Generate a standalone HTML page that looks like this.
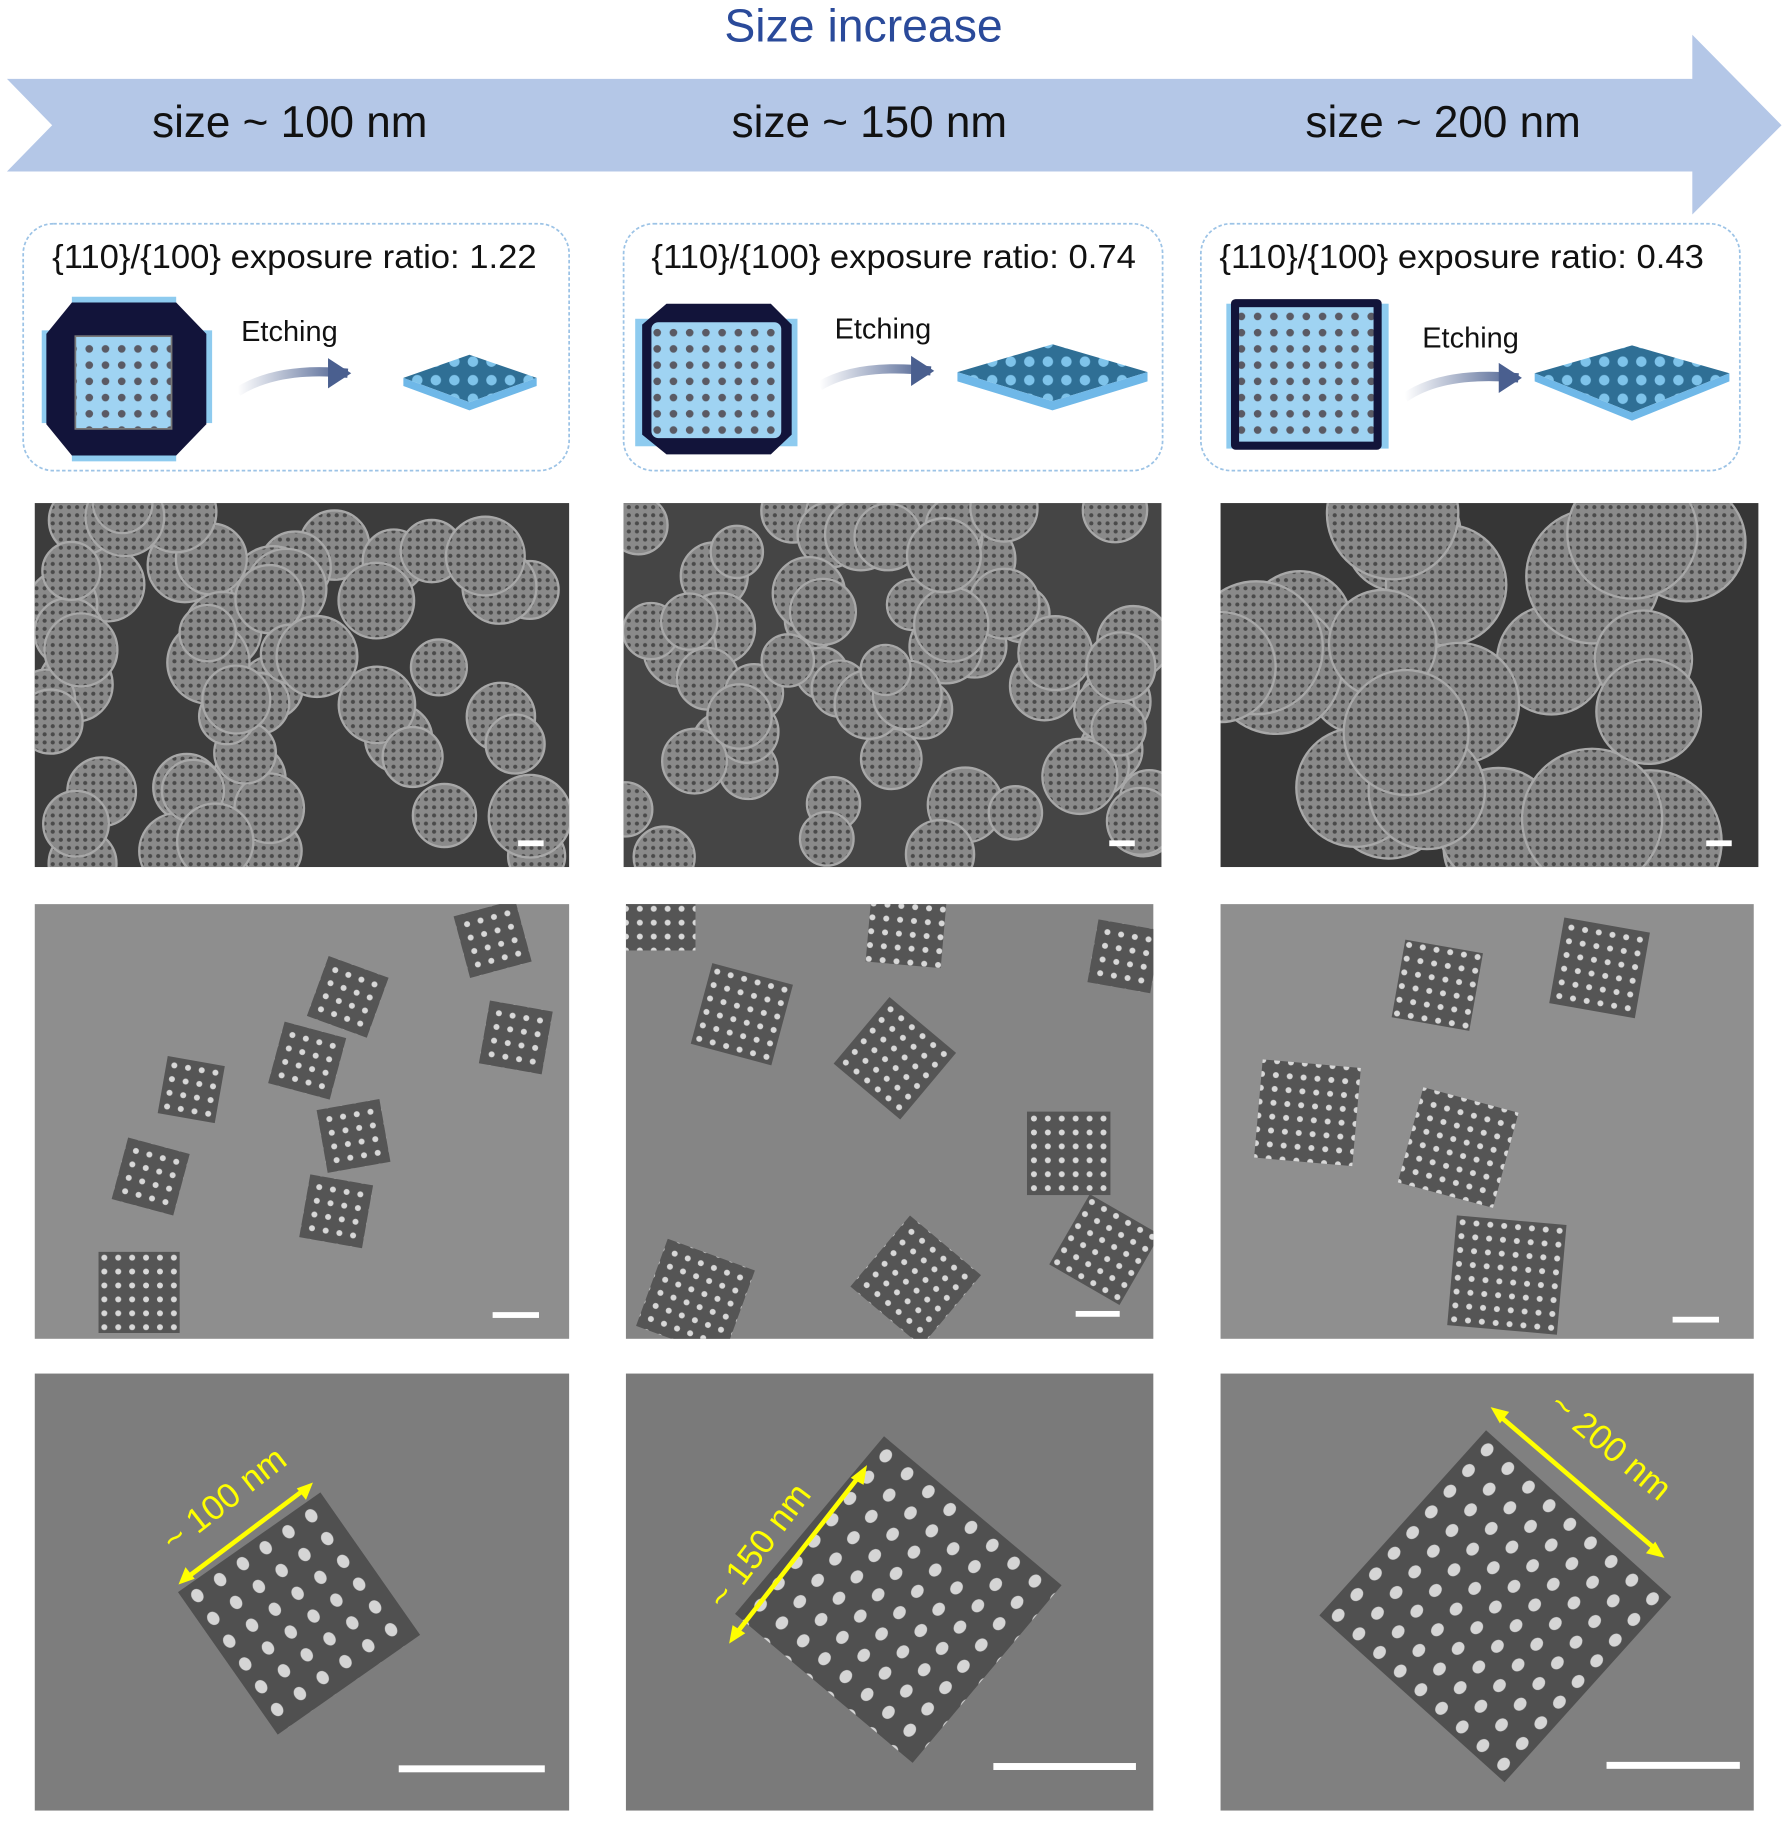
<!DOCTYPE html>
<html><head><meta charset="utf-8"><style>
html,body{margin:0;padding:0;background:#fff;}
svg{display:block;}
text{font-family:"Liberation Sans",sans-serif;}
</style></head><body>
<svg id="s" width="1792" height="1821" viewBox="0 0 1546 1571" xmlns="http://www.w3.org/2000/svg">
<defs>
<pattern id="pores" width="7" height="7" patternUnits="userSpaceOnUse"><rect width="7" height="7" fill="#8a8a8a"/><circle cx="3.5" cy="3.5" r="1.8" fill="#4a4a4a"/></pattern>
<pattern id="holes" width="12" height="12" patternUnits="userSpaceOnUse"><rect width="12" height="12" fill="#555"/><circle cx="6" cy="6" r="2.6" fill="#d8d8d8"/></pattern>
<pattern id="holes2" width="24" height="24" patternUnits="userSpaceOnUse"><rect width="24" height="24" fill="#505050"/><ellipse cx="12" cy="12" rx="5" ry="6" fill="#d5d5d5"/></pattern>
<pattern id="bluedots" width="14" height="14" patternUnits="userSpaceOnUse"><rect width="14" height="14" fill="#9fd3f2"/><circle cx="7" cy="7" r="3.3" fill="#5a5a64"/></pattern>
<pattern id="plate" width="16" height="16" patternUnits="userSpaceOnUse"><rect width="16" height="16" fill="#2f6f95"/><circle cx="8" cy="8" r="4.5" fill="#7ec3ea"/></pattern>
<linearGradient id="ag" x1="0" x2="1"><stop offset="0" stop-color="#4a5f8f" stop-opacity="0"/><stop offset="1" stop-color="#4a5f8f"/></linearGradient>
<clipPath id="c1"><rect x="30" y="434" width="461" height="314"/></clipPath>
<clipPath id="c2"><rect x="538" y="434" width="464" height="314"/></clipPath>
<clipPath id="c3"><rect x="1053" y="434" width="464" height="314"/></clipPath>
<clipPath id="t1"><rect x="30" y="780" width="461" height="375"/></clipPath>
<clipPath id="t2"><rect x="540" y="780" width="455" height="375"/></clipPath>
<clipPath id="t3"><rect x="1053" y="780" width="460" height="375"/></clipPath>
</defs>
<rect width="1546" height="1571" fill="#fff"/>
<text x="745" y="36" font-size="40" fill="#2a4a9a" text-anchor="middle">Size increase</text>
<polygon points="6,68 1460,68 1460,30 1537,108 1460,185 1460,148 6,148 45,108" fill="#b4c7e7"/>
<g font-size="38" fill="#111" text-anchor="middle">
<text x="250" y="118">size  ~ 100 nm</text>
<text x="750" y="118">size  ~ 150 nm</text>
<text x="1245" y="118">size  ~ 200 nm</text>
</g>
<g fill="none" stroke="#9cc3e6" stroke-width="1.5" stroke-dasharray="3,2">
<rect x="20" y="193" width="471" height="213" rx="26"/>
<rect x="538" y="193" width="465" height="213" rx="26"/>
<rect x="1036" y="193" width="465" height="213" rx="26"/>
</g>
<g font-size="29" fill="#111">
<text x="45" y="231" textLength="418" lengthAdjust="spacingAndGlyphs">{110}/{100} exposure ratio: 1.22</text>
<text x="562" y="231" textLength="418" lengthAdjust="spacingAndGlyphs">{110}/{100} exposure ratio: 0.74</text>
<text x="1052" y="231" textLength="418" lengthAdjust="spacingAndGlyphs">{110}/{100} exposure ratio: 0.43</text>
</g>
<g font-size="25" fill="#111">
<text x="208" y="294">Etching</text><text x="720" y="292">Etching</text><text x="1227" y="300">Etching</text>
</g>
<rect x="36" y="285" width="147" height="80" fill="#8ecbef"/>
<rect x="62" y="256" width="90" height="142" fill="#8ecbef"/>
<polygon points="62,261 152,261 178,288 178,366 152,393 62,393 40,366 40,288" fill="#12143a"/>
<rect x="65" y="290" width="83" height="80" fill="url(#bluedots)" stroke="#777" stroke-width="1.5"/>
<path d="M205,338 Q240,316 300,322" stroke="url(#ag)" stroke-width="8" fill="none"/>
<polygon points="283,309 303,322 283,335" fill="#4a5f8f"/>
<polygon points="405,306 463,326 405,347 348,326" fill="url(#plate)"/>
<polygon points="348,326 405,347 463,326 463,333 405,354 348,333" fill="#6fb8e8"/>
<rect x="548" y="275" width="140" height="110" fill="#8ecbef"/>
<polygon points="575,262 665,262 683,280 683,375 665,392 575,392 554,375 554,280" fill="#12143a"/>
<rect x="562" y="278" width="112" height="100" rx="6" fill="url(#bluedots)"/>
<path d="M707,333 Q740,313 803,320" stroke="url(#ag)" stroke-width="8" fill="none"/>
<polygon points="786,307 806,320 786,333" fill="#4a5f8f"/>
<polygon points="908,297 990,321 908,346 826,321" fill="url(#plate)"/>
<polygon points="826,321 908,346 990,321 990,329 908,354 826,329" fill="#6fb8e8"/>
<rect x="1058" y="262" width="140" height="125" fill="#8ecbef"/>
<rect x="1062" y="258" width="130" height="130" rx="4" fill="#12143a"/>
<rect x="1069" y="265" width="116" height="116" fill="url(#bluedots)"/>
<path d="M1212,343 Q1245,320 1310,326" stroke="url(#ag)" stroke-width="8" fill="none"/>
<polygon points="1293,313 1313,326 1293,339" fill="#4a5f8f"/>
<polygon points="1408,298 1492,322 1408,356 1324,322" fill="url(#plate)"/>
<polygon points="1324,322 1408,356 1492,322 1492,329 1408,363 1324,329" fill="#6fb8e8"/>
<rect x="30" y="434" width="461" height="314" fill="#3c3c3c"/>
<rect x="538" y="434" width="464" height="314" fill="#454545"/>
<rect x="1053" y="434" width="464" height="314" fill="#363636"/>
<g id="sem1" clip-path="url(#c1)"></g><g id="sem2" clip-path="url(#c2)"></g><g id="sem3" clip-path="url(#c3)"></g>
<rect x="30" y="780" width="461" height="375" fill="#8e8e8e"/>
<rect x="540" y="780" width="455" height="375" fill="#858585"/>
<rect x="1053" y="780" width="460" height="375" fill="#8f8f8f"/>
<g id="tem1" clip-path="url(#t1)"></g><g id="tem2" clip-path="url(#t2)"></g><g id="tem3" clip-path="url(#t3)"></g>
<rect x="30" y="1185" width="461" height="377" fill="#7d7d7d"/>
<rect x="540" y="1185" width="455" height="377" fill="#7a7a7a"/>
<rect x="1053" y="1185" width="460" height="377" fill="#808080"/>
<rect x="0" y="0" width="150" height="150" transform="translate(258,1392) rotate(-35) translate(-75,-75)" fill="url(#holes2)"/>
<rect x="0" y="0" width="200" height="200" transform="translate(775,1380) rotate(40) translate(-100,-100)" fill="url(#holes2)"/>
<rect x="0" y="0" width="215" height="215" transform="translate(1290,1385) rotate(42) translate(-107,-107)" fill="url(#holes2)"/>
<g stroke="#ffff00" stroke-width="4">
<line x1="160" y1="1362" x2="264" y2="1284"/>
<line x1="633" y1="1412" x2="744" y2="1270"/>
<line x1="1292" y1="1220" x2="1430" y2="1338"/>
</g>
<g fill="#ffff00">
<polygon points="154,1367 160,1352 168,1362"/><polygon points="270,1279 256,1284 264,1294"/>
<polygon points="629,1418 632,1402 643,1409"/><polygon points="748,1264 734,1275 745,1281"/>
<polygon points="1286,1214 1302,1218 1294,1228"/><polygon points="1436,1344 1420,1340 1428,1330"/>
</g>
<g font-size="30" fill="#ffff00">
<text transform="translate(150,1340) rotate(-38)">~ 100 nm</text>
<text transform="translate(625,1390) rotate(-53)">~ 150 nm</text>
<text transform="translate(1335,1215) rotate(40)">~ 200 nm</text>
</g>
<g fill="#fff">
<rect x="447" y="725" width="22" height="5"/><rect x="957" y="725" width="22" height="5"/><rect x="1472" y="725" width="22" height="5"/>
<rect x="425" y="1132" width="40" height="5"/><rect x="928" y="1131" width="38" height="5"/><rect x="1443" y="1136" width="40" height="5"/>
<rect x="344" y="1523" width="126" height="6"/><rect x="857" y="1521" width="123" height="6"/><rect x="1386" y="1520" width="115" height="6"/>
</g>
</svg>
<script>
(function(){
var ns="http://www.w3.org/2000/svg";var seed=7;function r(){seed=(seed*9301+49297)%233280;return seed/233280;}
var panels=[["sem1",30,434,461,314,55,30],["sem2",538,434,464,314,65,27],["sem3",1053,434,464,314,26,52]];
panels.forEach(function(p){var g=document.getElementById(p[0]);for(var i=0;i<p[5];i++){var c=document.createElementNS(ns,"circle");
var rad=p[6]*(0.8+r()*0.4);c.setAttribute("cx",p[1]+r()*p[3]);c.setAttribute("cy",p[2]+r()*p[4]);
c.setAttribute("r",rad);c.setAttribute("fill","url(#pores)");c.setAttribute("stroke","#a8a8a8");c.setAttribute("stroke-width","2");g.appendChild(c);}});
var sq=[["tem1",300,860,55,20],["tem1",425,810,55,-15],["tem1",265,915,55,15],["tem1",445,895,55,10],["tem1",165,940,50,10],["tem1",305,980,55,-10],["tem1",130,1015,55,15],["tem1",290,1045,55,10],["tem1",120,1115,70,0],
["tem2",640,875,72,15],["tem2",772,913,75,40],["tem2",782,800,65,5],["tem2",970,825,55,10],["tem2",922,995,72,0],["tem2",953,1078,70,30],["tem2",790,1105,80,40],["tem2",600,1120,80,20],["tem2",570,790,60,0],
["tem3",1240,850,68,10],["tem3",1380,835,75,10],["tem3",1128,960,85,5],["tem3",1258,990,85,15],["tem3",1300,1100,95,5]];
sq.forEach(function(s){var e=document.createElementNS(ns,"rect");e.setAttribute("x",-s[3]/2);e.setAttribute("y",-s[3]/2);e.setAttribute("width",s[3]);e.setAttribute("height",s[3]);
e.setAttribute("transform","translate("+s[1]+","+s[2]+") rotate("+s[4]+")");e.setAttribute("fill","url(#holes)");document.getElementById(s[0]).appendChild(e);});
})();
</script>
</body></html>
